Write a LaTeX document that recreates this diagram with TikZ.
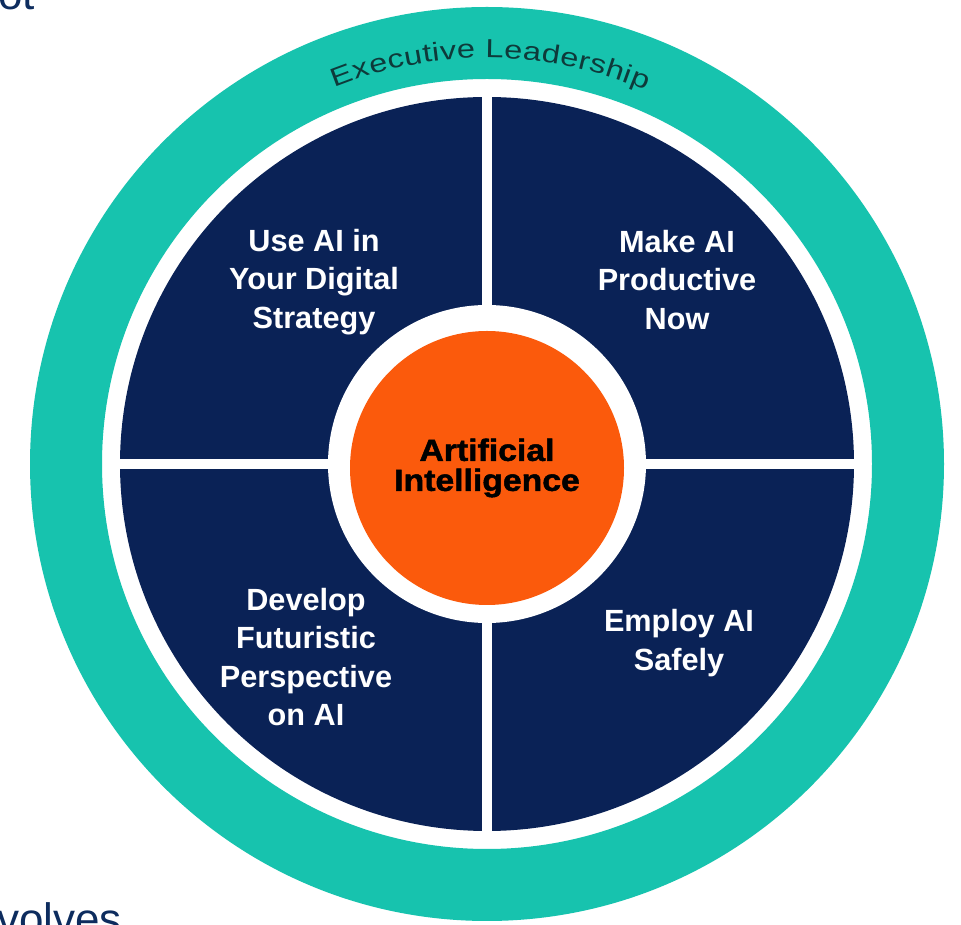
\documentclass[tikz,border=0pt]{standalone}
\usepackage{fontspec}
\setmainfont{Liberation Sans}
\newfontfamily\widefont[FakeStretch=1.1,FakeBold=1.6]{Liberation Sans}
\newfontfamily\ringfont[FakeStretch=1.25]{Liberation Sans}
\usetikzlibrary{decorations.text, positioning}
\definecolor{ringteal}{HTML}{17C3AE}
\definecolor{quadnavy}{HTML}{0A2256}
\definecolor{coreorange}{HTML}{FB5A0C}
\definecolor{ringink}{HTML}{0E3A3A}
\definecolor{pageblue}{HTML}{0D2C5E}

\tikzset{
  quadlabel/.style={text=white, align=center, font=\fontsize{23}{28.9}\selectfont\bfseries},
  corelabel/.style={circle, fill=coreorange, text=black, align=center, minimum size=205.5pt, font=\widefont\fontsize{23}{22.5}\selectfont\bfseries},
  pagetext/.style={text=pageblue, inner sep=0pt, font=\fontsize{33}{38}\selectfont},
}

\begin{document}
\begin{tikzpicture}[x=0.75pt, y=0.75pt]
  \fill[white] (0,0) rectangle (961,925);
  \useasboundingbox (0,0) rectangle (961,925);
  \coordinate (c) at (487,461);
  % outer ring for the leadership band
  \fill[ringteal, even odd rule] (c) circle (457) (c) circle (385);
  \path[decorate, decoration={text along path, text color=ringink, text align=fit to path,
    text={|\ringfont\fontsize{19.5}{22}\selectfont|Executive Leadership}}]
    (c) ++(112:406) arc (112:67:406);
  % the four quadrants
  \fill[quadnavy] (c) circle (367);
  \draw[white, line width=7.5pt] (c) ++(-372,0) -- ++(744,0);
  \draw[white, line width=7.5pt] (c) ++(0,-372) -- ++(0,744);
  % core in the middle
  \fill[white] (c) circle (159);
  \node[corelabel] (core) at (487,457) {Artificial\\Intelligence};
  \node[quadlabel] (useai) at (314,643) {Use AI in\\Your Digital\\Strategy};
  \node[quadlabel] (makeai) at (677,645) {Make AI\\Productive\\Now};
  \node[quadlabel] (develop) at (306,268) {Develop\\Futuristic\\Perspective\\on AI};
  \node[quadlabel] (employ) at (679,282) {Employ AI\\Safely};
  % cut-off words of the page around the figure
  \node[pagetext, anchor=base west] (topword) at (-2,915) {ot};
  \node[pagetext, anchor=base west] (bottomword) at (-3,-10) {volves};
\end{tikzpicture}
\end{document}
